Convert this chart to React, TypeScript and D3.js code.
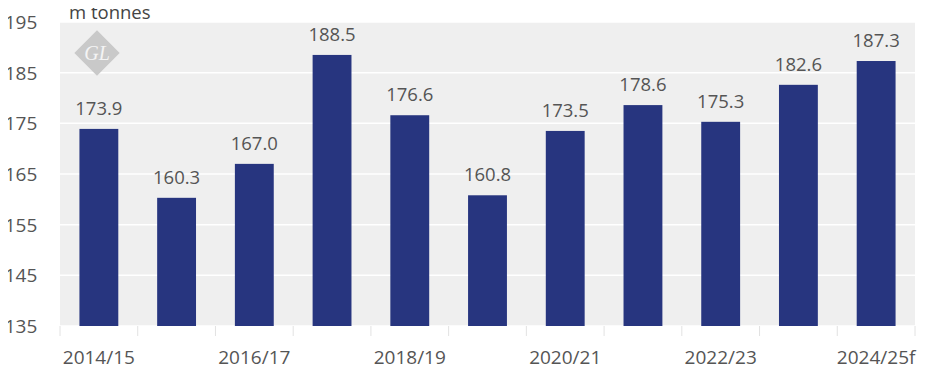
import React, { useEffect, useRef } from "react";
import * as d3 from "d3";

const seasons = ["2014/15", "2015/16", "2016/17", "2017/18", "2018/19", "2019/20", "2020/21", "2021/22", "2022/23", "2023/24", "2024/25f"];
const production = [173.9, 160.3, 167.0, 188.5, 176.6, 160.8, 173.5, 178.6, 175.3, 182.6, 187.3];
const yTicks = [135, 145, 155, 165, 175, 185, 195];
const shownLabels = ["2014/15", "2016/17", "2018/19", "2020/21", "2022/23", "2024/25f"];

export default function App() {
  const ref = useRef<SVGSVGElement>(null);

  useEffect(() => {
    const svg = d3.select(ref.current);
    svg.selectAll("*").remove();

    const margin = { top: 22, right: 24, bottom: 65, left: 60 };
    const width = 939 - margin.left - margin.right;
    const height = 391 - margin.top - margin.bottom;
    const font = "'Open Sans', sans-serif";

    const g = svg.append("g").attr("transform", `translate(${margin.left},${margin.top})`);

    const x = d3.scaleBand().domain(seasons).range([0, width]).paddingInner(0.5).paddingOuter(0.25);
    const y = d3.scaleLinear().domain([135, 195]).range([height, 0]);

    // plot background
    g.append("rect")
      .attr("x", 0)
      .attr("y", 0)
      .attr("width", width)
      .attr("height", height)
      .attr("fill", "#efefef");

    // horizontal grid lines
    g.selectAll(".grid")
      .data(yTicks)
      .join("line")
      .attr("x1", 0)
      .attr("x2", width)
      .attr("y1", d => y(d))
      .attr("y2", d => y(d))
      .attr("stroke", "#ffffff")
      .attr("stroke-width", 1.5);

    // watermark logo
    const logo = g.append("g").attr("transform", "translate(37,31)");
    logo.append("rect")
      .attr("x", -16)
      .attr("y", -16)
      .attr("width", 32)
      .attr("height", 32)
      .attr("transform", "rotate(45)")
      .attr("fill", "#c9c9c9");
    logo.append("text")
      .attr("text-anchor", "middle")
      .attr("dy", "0.35em")
      .style("font-family", "serif")
      .style("font-style", "italic")
      .style("font-size", "20px")
      .attr("fill", "#f4f4f4")
      .text("GL");

    // bars
    g.selectAll(".bar")
      .data(production)
      .join("rect")
      .attr("x", (d, i) => x(seasons[i]) as number)
      .attr("y", d => y(d))
      .attr("width", x.bandwidth())
      .attr("height", d => height - y(d))
      .attr("fill", "#27357f");

    // value labels
    g.selectAll(".val")
      .data(production)
      .join("text")
      .attr("x", (d, i) => (x(seasons[i]) as number) + x.bandwidth() / 2)
      .attr("y", d => y(d) - 14)
      .attr("text-anchor", "middle")
      .style("font-family", font)
      .style("font-size", "18.5px")
      .attr("fill", "#555")
      .text(d => d.toFixed(1));

    // y axis labels
    g.selectAll(".ylab")
      .data(yTicks)
      .join("text")
      .attr("x", -39)
      .attr("y", d => y(d))
      .attr("dy", "0.36em")
      .attr("text-anchor", "middle")
      .style("font-family", font)
      .style("font-size", "19px")
      .attr("fill", "#555")
      .text(d => d);

    // x tick marks at band edges
    const step = x.step();
    const edges = d3.range(seasons.length + 1).map(i => i * step);
    g.selectAll(".xtick")
      .data(edges)
      .join("line")
      .attr("x1", d => d)
      .attr("x2", d => d)
      .attr("y1", height)
      .attr("y2", height + 10)
      .attr("stroke", "#e2e2e2")
      .attr("stroke-width", 1);

    // x labels
    g.selectAll(".xlab")
      .data(shownLabels)
      .join("text")
      .attr("x", d => (x(d) as number) + x.bandwidth() / 2)
      .attr("y", height + 38)
      .attr("text-anchor", "middle")
      .style("font-family", font)
      .style("font-size", "19px")
      .attr("fill", "#555")
      .text(d => d);

    // unit label
    svg.append("text")
      .attr("x", 69)
      .attr("y", 19)
      .style("font-family", font)
      .style("font-size", "18.5px")
      .attr("fill", "#444")
      .text("m tonnes");
  }, []);

  return (
    <div style={{ margin: -8 }}>
      <svg ref={ref} width={939} height={391} style={{ display: "block", background: "#fff" }} />
    </div>
  );
}
